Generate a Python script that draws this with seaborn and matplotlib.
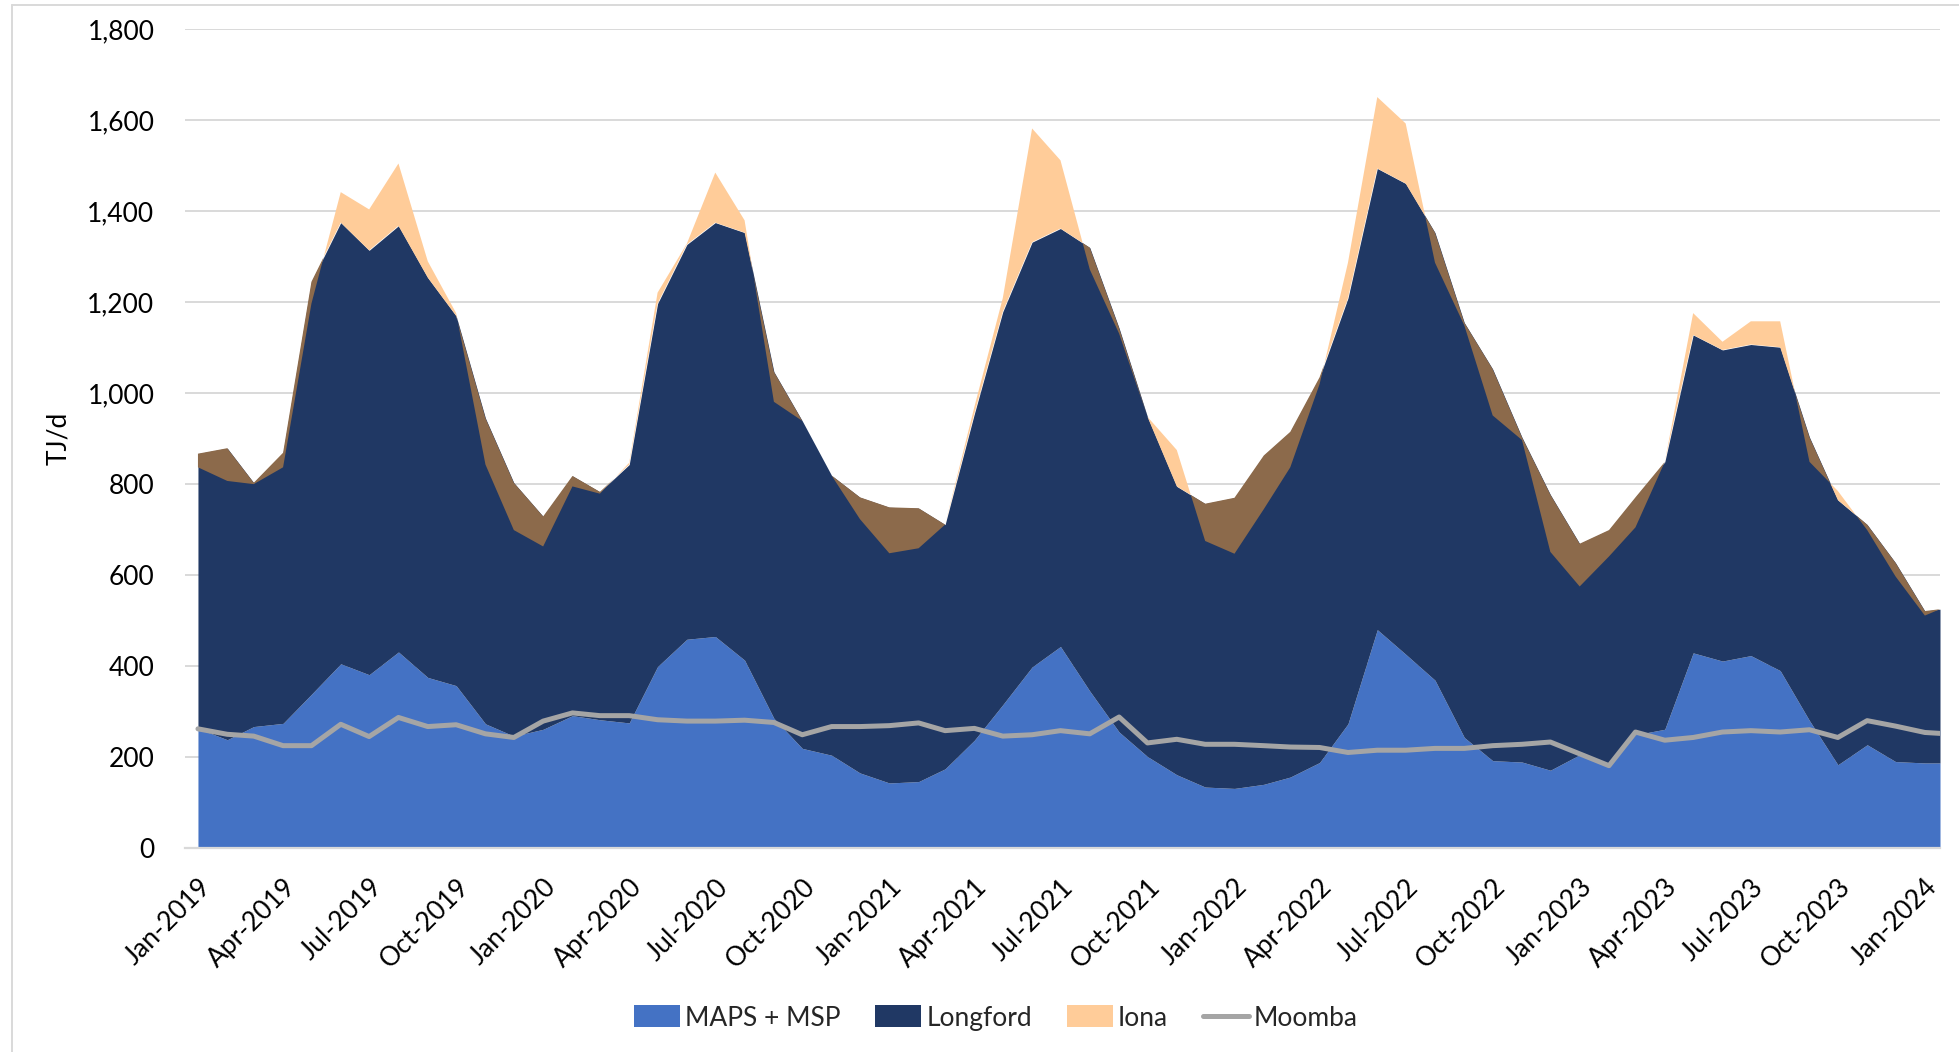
import numpy as np
import pandas as pd
import matplotlib
matplotlib.use("Agg")
import matplotlib.pyplot as plt
import matplotlib.dates as mdates
from matplotlib.patches import Patch
from matplotlib.lines import Line2D
from matplotlib.ticker import FuncFormatter, MultipleLocator
import seaborn as sns

# Monthly supply by source, TJ/d (last record is a mid-January 2024 partial)
dates = list(pd.date_range("2019-01-01", "2024-01-01", freq="MS")) + [pd.Timestamp("2024-01-17")]

maps_msp = [263, 238, 267, 274, 338, 405, 381, 431, 375, 357, 273, 246,
            261, 291, 282, 275, 399, 459, 465, 413, 285, 219, 204, 165,
            143, 146, 174, 237, 315, 398, 443, 345, 255, 201, 161, 134,
            131, 140, 156, 188, 273, 480, 426, 369, 243, 192, 189, 171,
            205, 185, 249, 261, 429, 411, 423, 390, 280, 183, 227, 190,
            187, 187]

# Longford shown as its cumulative top (MAPS + MSP + Longford)
longford_top = [867, 879, 803, 869, 1245, 1375, 1314, 1368, 1254, 1170, 945, 803,
                729, 818, 783, 843, 1197, 1327, 1375, 1353, 1047, 939, 819, 771,
                749, 747, 711, 955, 1179, 1332, 1362, 1320, 1143, 948, 795, 757,
                770, 863, 915, 1035, 1209, 1494, 1461, 1353, 1155, 1053, 903, 777,
                669, 699, 771, 849, 1128, 1095, 1107, 1101, 903, 765, 711, 627,
                521, 525]

# Iona net flow (negative = injection)
iona = [-30, -72, -3, -32, -48, 67, 90, 137, 36, 6, -102, -104,
        -66, -23, -4, 4, 24, 2, 110, 27, -66, 0, 0, -48,
        -101, -88, 0, 15, 30, 250, 150, -48, -12, 0, 80, -82,
        -123, -118, -78, -15, 78, 157, 132, -66, -6, -102, -6, -126,
        -94, -58, -66, 0, 48, 18, 51, 57, -54, 20, -12, -30,
        -10, 0]

moomba = [262, 250, 246, 225, 225, 272, 245, 287, 267, 271, 251, 243,
          279, 297, 291, 291, 282, 279, 279, 281, 276, 249, 267, 267,
          269, 275, 258, 263, 246, 249, 258, 251, 288, 231, 239, 228,
          228, 225, 222, 221, 210, 215, 215, 219, 219, 225, 228, 233,
          207, 181, 255, 237, 243, 255, 258, 255, 260, 243, 280, 268,
          254, 252]

series_names = ["MAPS + MSP", "Longford", "Iona", "Moomba"]
tick_dates = pd.date_range("2019-01-01", "2024-01-01", freq="3MS")

c_maps = "#4472C4"
c_longford = "#203864"
c_iona = "#FFCC99"
c_inject = "#8C6A4B"
c_moomba = "#A5A5A5"
c_grid = "#D9D9D9"

sns.set_theme(style="white")
plt.rcParams["font.family"] = ["Lato", "DejaVu Sans"]

fig = plt.figure(figsize=(19.59, 10.52), dpi=100)
ax = fig.add_axes([185 / 1959, 1 - 848 / 1052, (1940 - 185) / 1959, (848 - 29.3) / 1052])

x = mdates.date2num(dates)
m = np.array(maps_msp, dtype=float)
lt = np.array(longford_top, dtype=float)
io = np.array(iona, dtype=float)

ax.fill_between(x, 0, m, color=c_maps, linewidth=0, zorder=1)
ax.fill_between(x, m, lt, color=c_longford, linewidth=0, zorder=1.1)
ax.fill_between(x, lt, lt + io, where=io >= 0, interpolate=True,
                color=c_iona, linewidth=0, zorder=1.2)
ax.fill_between(x, lt + io, lt, where=io <= 0, interpolate=True,
                color=c_inject, linewidth=0, zorder=1.2)
sns.lineplot(x=x, y=moomba, color=c_moomba, linewidth=3.6, ax=ax, zorder=3,
             legend=False)

ax.set_ylim(0, 1800)
ax.set_xlim(mdates.date2num(pd.Timestamp("2019-01-01")) - 13.7,
            mdates.date2num(pd.Timestamp("2024-01-17")))
ax.yaxis.set_major_locator(MultipleLocator(200))
ax.yaxis.set_major_formatter(FuncFormatter(lambda v, p: f"{v:,.0f}"))
ax.grid(axis="y", color=c_grid, linewidth=1.4, zorder=0)
ax.set_axisbelow(True)
ax.set_xticks(mdates.date2num(tick_dates))
ax.set_xticklabels([d.strftime("%b-%Y") for d in tick_dates],
                   rotation=45, ha="right", rotation_mode="anchor")
ax.tick_params(axis="x", length=0, pad=19, labelsize=19, colors="black")
ax.tick_params(axis="y", length=0, pad=22, labelsize=19, colors="black")
ax.set_ylabel("TJ/d", fontsize=19, color="black", labelpad=12)
for side in ["top", "right", "left"]:
    ax.spines[side].set_visible(False)
ax.spines["bottom"].set_color(c_grid)
ax.spines["bottom"].set_linewidth(1.6)
ax.spines["bottom"].set_zorder(4)

handles = [Patch(facecolor=c_maps, edgecolor="none"),
           Patch(facecolor=c_longford, edgecolor="none"),
           Patch(facecolor=c_iona, edgecolor="none"),
           Line2D([0], [0], color=c_moomba, linewidth=3.6)]
fig.legend(handles, series_names, loc="center", ncol=4, frameon=False,
           bbox_to_anchor=(996 / 1959, 1 - 1018 / 1052), fontsize=19,
           handlelength=1.75, handleheight=0.9, handletextpad=0.2,
           columnspacing=1.3)

# chart-area border
fig.add_artist(Line2D([12 / 1959, 12 / 1959], [0, 1 - 5 / 1052],
                      transform=fig.transFigure, color=c_grid, linewidth=1.4))
fig.add_artist(Line2D([12 / 1959, 1], [1 - 5 / 1052, 1 - 5 / 1052],
                      transform=fig.transFigure, color=c_grid, linewidth=1.4))

fig.savefig("out.png", dpi=100, facecolor="white")
